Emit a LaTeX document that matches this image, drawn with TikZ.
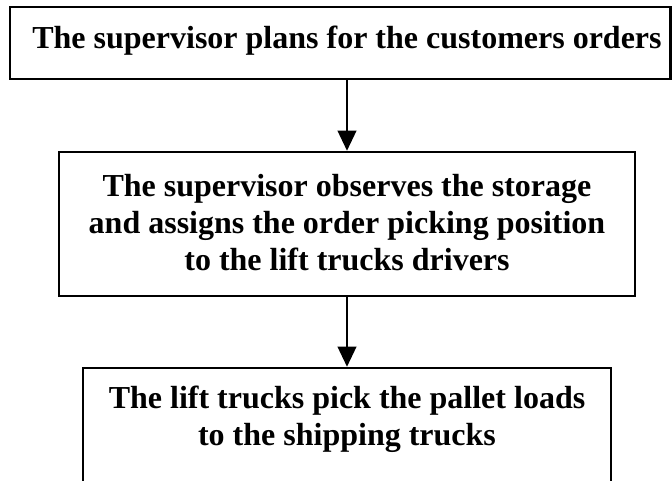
\documentclass[tikz,border=0pt]{standalone}
\usepackage{fontspec}
\setmainfont{Liberation Serif}
\usetikzlibrary{arrows.meta}

\tikzset{
  frame/.style={draw, line width=1.9pt, inner sep=0pt},
  words/.style={font=\fontsize{24}{27.8}\selectfont\bfseries, align=center, inner sep=0pt},
  flow/.style={-{Triangle[length=15pt,width=14pt]}, line width=1.2pt}
}

\begin{document}
\begin{tikzpicture}[x=0.75pt, y=-0.75pt]
  \useasboundingbox (0,0) rectangle (672,481);
  \clip (0,0) rectangle (672,481);

  % frames of the three steps
  \node[frame, minimum width=495.4pt, minimum height=54pt] (plan) at (340.25,43) {};
  \node[frame, minimum width=432pt, minimum height=108pt] (observe) at (347,224) {};
  \node[frame, minimum width=396pt, minimum height=120pt] (pick) at (347,448) {};

  % texts
  \node[words] (plantext) at (347,41) {The supervisor plans for the customers orders};
  \node[words] (observetext) at (347,222.5) {The supervisor observes the storage\\and assigns the order picking position\\to the lift trucks drivers};
  \node[words] (picktext) at (347,419) {The lift trucks pick the pallet loads\\to the shipping trucks};

  \draw[flow] (plan.south -| observe.north) -- (observe.north);
  \draw[flow] (observe.south) -- (pick.north);
\end{tikzpicture}
\end{document}
